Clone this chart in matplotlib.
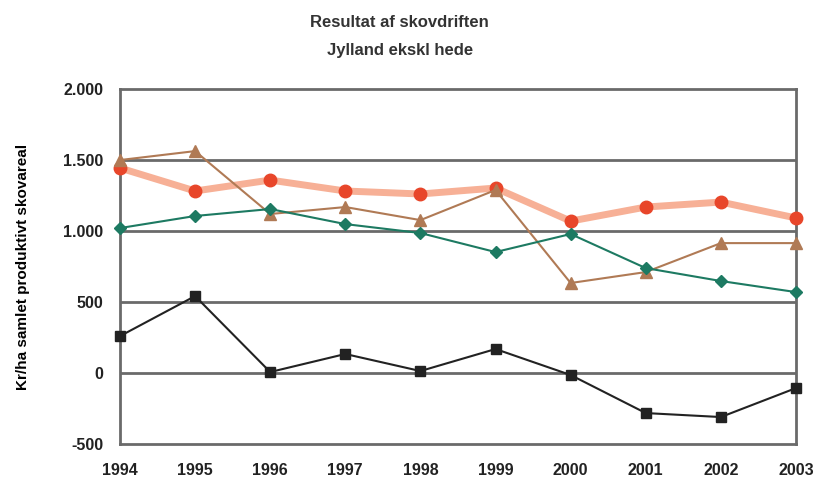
import numpy as np
import matplotlib.pyplot as plt

years = [1994, 1995, 1996, 1997, 1998, 1999, 2000, 2001, 2002, 2003]
red = [1444, 1282, 1359, 1282, 1261, 1303, 1070, 1169, 1204, 1092]
brown = [1500, 1563, 1120, 1169, 1077, 1289, 634, 711, 915, 915]
green = [1021, 1106, 1155, 1049, 986, 852, 979, 739, 648, 570]
black = [260, 542, 7, 134, 14, 169, -14, -282, -310, -106]
yticks = [-500, 0, 500, 1000, 1500, 2000]
ylabels = ['-500', '0', '500', '1.000', '1.500', '2.000']

plt.rcParams['font.family'] = ['Liberation Sans', 'DejaVu Sans']
plt.rcParams['font.weight'] = 'bold'

fig = plt.figure(figsize=(8.24, 4.84), dpi=100)
ax = fig.add_axes([0.1456, 0.0826, 0.8204, 0.7334])

for y in [0, 500, 1000, 1500]:
    ax.axhline(y, color='#6a6a6a', lw=2, zorder=1)

ax.plot(years, red, color='#f7b096', lw=5, zorder=2, clip_on=False)
ax.plot(years, red, ls='none', marker='o', ms=9, color='#e8462a', zorder=3, clip_on=False)
ax.plot(years, brown, color='#b07a55', lw=1.5, marker='^', ms=8, zorder=4, clip_on=False)
ax.plot(years, green, color='#1d7a62', lw=1.5, marker='D', ms=6, zorder=5, clip_on=False)
ax.plot(years, black, color='#222222', lw=1.5, marker='s', ms=7.5, zorder=6, clip_on=False)

ax.set_xlim(1994, 2003)
ax.set_ylim(-500, 2000)
ax.set_yticks(yticks)
ax.set_yticklabels(ylabels)
ax.set_xticks(years)
for s in ax.spines.values():
    s.set_color('#6a6a6a')
    s.set_linewidth(2)
    s.set_zorder(1)
ax.tick_params(length=0, labelsize=11.5, colors='#222222', pad=12)
ax.tick_params(axis='x', pad=14)
ax.set_ylabel('Kr/ha samlet produktivt skovareal', fontsize=11, fontweight='bold', labelpad=24)

fig.text(0.485, 0.953, 'Resultat af skovdriften', ha='center', va='center', fontsize=12, fontweight='bold', color='#333333')
fig.text(0.485, 0.895, 'Jylland ekskl hede', ha='center', va='center', fontsize=12, fontweight='bold', color='#333333')

fig.savefig('out.png', dpi=100)
